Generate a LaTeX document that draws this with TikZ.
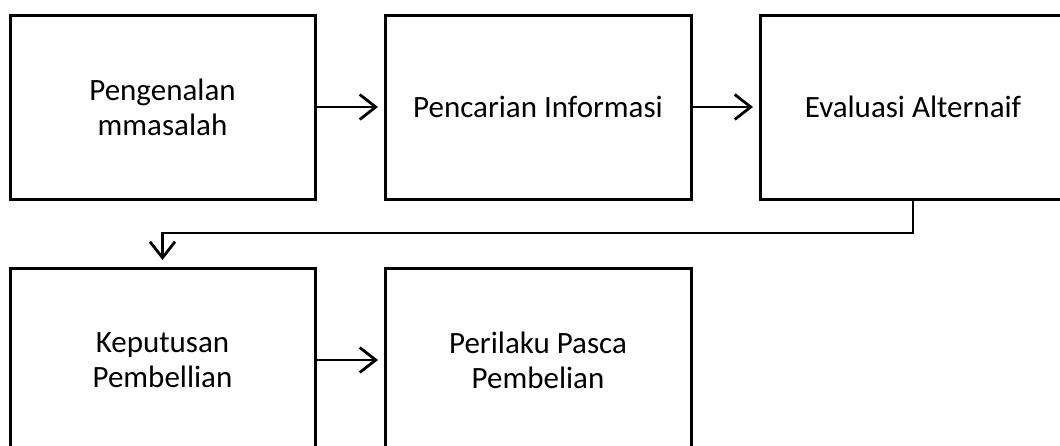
\documentclass[tikz,border=0pt]{standalone}
\usepackage{fontspec}
\setmainfont{Carlito}
\usetikzlibrary{arrows.meta}
\begin{document}
\begin{tikzpicture}[x=1pt,y=-1pt,
  box/.style={draw=black,line width=3pt,minimum height=184pt,inner sep=0pt,outer sep=0pt,
    align=center,font=\fontsize{31}{35}\selectfont},
  arr/.style={line width=2.8pt,-{Straight Barb[length=16pt,width=25pt,line width=2.8pt]}}]
\clip (0,0) rectangle (1060,445);
\node[box,minimum width=305pt] (b1) at (162.5,107) {Pengenalan\\mmasalah};
\node[box,minimum width=306pt] (b2) at (538,107) {Pencarian Informasi};
\node[box,minimum width=306pt] (b3) at (913,107) {Evaluasi Alternaif};
\node[box,minimum width=305pt] (b4) at (162.5,360) {Keputusan\\Pembellian};
\node[box,minimum width=306pt] (b5) at (538,360) {Perilaku Pasca\\Pembelian};
\draw[arr,shorten >=7pt] (b1.east) -- (b2.west);
\draw[arr,shorten >=7pt] (b2.east) -- (b3.west);
\draw[arr,shorten >=7pt] (b4.east) -- (b5.west);
\draw[arr,shorten >=8pt] (b3.south) -- ++(0,34) -| (b4.north);
\end{tikzpicture}
\end{document}
